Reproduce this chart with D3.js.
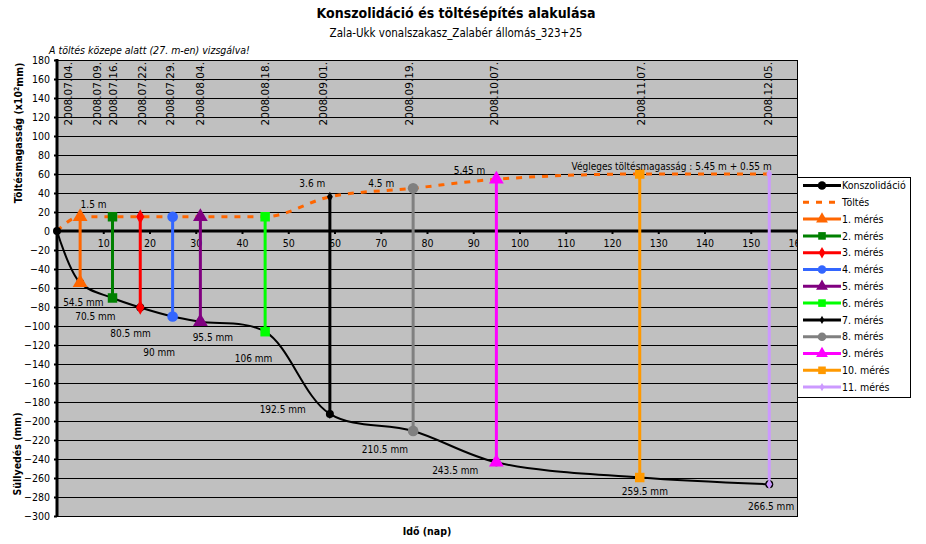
<!DOCTYPE html>
<html>
<head>
<meta charset="utf-8">
<script src="https://cdn.jsdelivr.net/npm/d3@7"></script>
<style>
  body { margin: 0; background: #fff; }
  svg text { font-family: "DejaVu Sans Condensed", "DejaVu Sans", sans-serif; fill: #000; }
</style>
</head>
<body>
<div id="chart"></div>
<script>
// 1: DATA
const measureDays = [0, 5, 12, 18, 25, 31, 45, 59, 77, 95, 126, 154];
const measureDates = ["2008.07.04.", "2008.07.09.", "2008.07.16.", "2008.07.22.", "2008.07.29.", "2008.08.04.",
                      "2008.08.18.", "2008.09.01.", "2008.09.19.", "2008.10.07.", "2008.11.07.", "2008.12.05."];
const dateLabelDays = [2.4, 8.6, 12.2, 18.4, 24.5, 31, 45, 57.6, 76, 94.4, 126.2, 153.7];
const settlement = [0, -54.5, -70.5, -80.5, -90, -95.5, -106, -192.5, -210.5, -243.5, -259.5, -266.5];
const fillHeight = [0, 15, 15, 15, 15, 15, 15, 36, 45, 54.5, 60, 60];

const seriesNames = ["1. mérés", "2. mérés", "3. mérés", "4. mérés", "5. mérés", "6. mérés",
                     "7. mérés", "8. mérés", "9. mérés", "10. mérés", "11. mérés"];
const seriesColors = ["#FF6600", "#008000", "#FF0000", "#3366FF", "#800080", "#00FF00",
                      "#000000", "#808080", "#FF00FF", "#FF9900", "#CC99FF"];
const seriesMarkers = ["triangle", "square", "diamond", "circle", "triangle", "square",
                       "smalldiamond", "circle", "triangle", "square", "smalldiamond"];

const settleNotes = [
  { text: "54.5 mm", day: 5.7, val: -75.5 },
  { text: "70.5 mm", day: 8.3, val: -90.5 },
  { text: "80.5 mm", day: 15.9, val: -108.4 },
  { text: "90 mm", day: 22.1, val: -128 },
  { text: "95.5 mm", day: 33.7, val: -111.6 },
  { text: "106 mm", day: 42.5, val: -134.7 },
  { text: "192.5 mm", day: 48.8, val: -188.4 },
  { text: "210.5 mm", day: 70.9, val: -229.5 },
  { text: "243.5 mm", day: 86.1, val: -251.6 },
  { text: "259.5 mm", day: 127.1, val: -274.4 },
  { text: "266.5 mm", day: 154.4, val: -290.2 }
];
const fillNotes = [
  { text: "1.5 m", day: 7.9, val: 28.4 },
  { text: "3.6 m", day: 55.2, val: 49.5 },
  { text: "4.5 m", day: 70.1, val: 50.2 },
  { text: "5.45 m", day: 89.2, val: 64.2 },
  { text: "Végleges töltésmagasság : 5.45 m + 0.55 m", day: 132.9, val: 67.7 }
];

const xTicks = d3.range(10, 161, 10);
const yTicks = d3.range(-300, 181, 20);

// 2: SIZES
const W = 926, H = 544;
const plot = { left: 57, top: 60, right: 797, bottom: 516 };

const svg = d3.select("#chart").append("svg")
    .attr("width", W)
    .attr("height", H);

const x = d3.scaleLinear().domain([0, 160]).range([plot.left, plot.right]);
const y = d3.scaleLinear().domain([-300, 180]).range([plot.bottom, plot.top]);

// 3: BACKGROUND + GRID
svg.append("rect")
    .attr("x", plot.left).attr("y", plot.top)
    .attr("width", plot.right - plot.left).attr("height", plot.bottom - plot.top)
    .attr("fill", "#C0C0C0");

svg.append("g").selectAll("line")
    .data(yTicks)
    .join("line")
    .attr("x1", plot.left).attr("x2", plot.right)
    .attr("y1", d => y(d) + 0.5).attr("y2", d => y(d) + 0.5)
    .attr("stroke", "#000").attr("stroke-width", 1);

svg.append("rect")
    .attr("x", plot.left + 0.5).attr("y", plot.top + 0.5)
    .attr("width", plot.right - plot.left).attr("height", plot.bottom - plot.top)
    .attr("fill", "none").attr("stroke", "#000").attr("stroke-width", 1);

// 4: AXES
const yAxis = svg.append("g")
    .attr("transform", `translate(${plot.left},0)`)
    .call(d3.axisLeft(y).tickValues(yTicks).tickSize(3).tickPadding(4));
yAxis.select(".domain").remove();
yAxis.selectAll("line").attr("stroke-width", 2);
yAxis.selectAll("text").style("font-size", "10.5px");

const xAxis = svg.append("g")
    .attr("transform", `translate(0,${y(0)})`)
    .call(d3.axisBottom(x).tickValues(xTicks).tickSize(3).tickPadding(6));
xAxis.select(".domain").remove();
xAxis.selectAll("line").attr("stroke-width", 2);
xAxis.selectAll("text").style("font-size", "10.5px");

svg.append("line")
    .attr("x1", plot.left).attr("x2", plot.right)
    .attr("y1", y(0)).attr("y2", y(0))
    .attr("stroke", "#000").attr("stroke-width", 3);
svg.append("line")
    .attr("x1", plot.left).attr("x2", plot.left)
    .attr("y1", plot.top - 1).attr("y2", plot.bottom + 1)
    .attr("stroke", "#000").attr("stroke-width", 3);

// 5: LINES
const pts = (vals) => measureDays.map((d, i) => [d, vals[i]]);
const smooth = d3.line()
    .x(d => x(d[0]))
    .y(d => y(d[1]))
    .curve(d3.curveCatmullRom.alpha(0.5));
const mono = d3.line()
    .x(d => x(d[0]))
    .y(d => y(d[1]))
    .curve(d3.curveMonotoneX);

svg.append("path")
    .attr("d", mono(pts(fillHeight)))
    .attr("fill", "none")
    .attr("stroke", "#FF6600")
    .attr("stroke-width", 3)
    .attr("stroke-dasharray", "6,7");

svg.append("path")
    .attr("d", smooth(pts(settlement)))
    .attr("fill", "none")
    .attr("stroke", "#000")
    .attr("stroke-width", 2);

// measurement verticals
const meas = seriesNames.map((name, i) => ({
  name, color: seriesColors[i], marker: seriesMarkers[i],
  day: measureDays[i + 1], top: fillHeight[i + 1], bottom: settlement[i + 1]
}));

svg.append("g").selectAll("line")
    .data(meas)
    .join("line")
    .attr("x1", d => x(d.day)).attr("x2", d => x(d.day))
    .attr("y1", d => y(d.top)).attr("y2", d => y(d.bottom))
    .attr("stroke", d => d.color)
    .attr("stroke-width", 3);

function symbolPath(kind) {
  const map = {
    triangle: [d3.symbolTriangle, 95],
    square: [d3.symbolSquare, 90],
    diamond: [d3.symbolDiamond, 60],
    circle: [d3.symbolCircle, 90],
    smalldiamond: [d3.symbolDiamond, 30]
  };
  const m = map[kind];
  return d3.symbol().type(m[0]).size(m[1])();
}

// konszolidáció markers
svg.append("g").selectAll("circle")
    .data(pts(settlement))
    .join("circle")
    .attr("cx", d => x(d[0])).attr("cy", d => y(d[1]))
    .attr("r", 4)
    .attr("fill", "#000");

const markerG = svg.append("g");
meas.forEach(d => {
  [d.top, d.bottom].forEach(v => {
    markerG.append("path")
        .attr("d", symbolPath(d.marker))
        .attr("transform", `translate(${x(d.day)},${y(v)})`)
        .attr("fill", d.color);
  });
});

// 6: ANNOTATIONS
svg.append("g").selectAll("text")
    .data(settleNotes.concat(fillNotes))
    .join("text")
    .attr("x", d => x(d.day))
    .attr("y", d => y(d.val))
    .attr("text-anchor", "middle")
    .attr("dy", "0.35em")
    .style("font-size", "10px")
    .text(d => d.text);

svg.append("g").selectAll("text")
    .data(measureDates)
    .join("text")
    .attr("transform", (d, i) => `translate(${x(dateLabelDays[i]) + 4},${plot.top + 2}) rotate(-90)`)
    .attr("text-anchor", "end")
    .style("font-family", "'DejaVu Sans', sans-serif")
    .style("font-size", "10.5px")
    .text(d => d);

// 7: TITLES
svg.append("text")
    .attr("x", 456).attr("y", 18)
    .attr("text-anchor", "middle")
    .style("font-size", "14px").style("font-weight", "bold")
    .text("Konszolidáció és töltésépítés alakulása");

svg.append("text")
    .attr("x", 456).attr("y", 37)
    .attr("text-anchor", "middle")
    .style("font-size", "11.5px")
    .text("Zala-Ukk vonalszakasz_Zalabér állomás_323+25");

svg.append("text")
    .attr("x", 49).attr("y", 54)
    .style("font-size", "10.5px").style("font-style", "italic")
    .text("A töltés közepe alatt (27. m-en) vizsgálva!");

const yt = svg.append("text")
    .attr("transform", "translate(22,133) rotate(-90)")
    .attr("text-anchor", "middle")
    .style("font-size", "10.5px").style("font-weight", "bold");
yt.append("tspan").text("Töltésmagasság (x10");
yt.append("tspan").attr("dy", "-0.4em").style("font-size", "7px").text("2");
yt.append("tspan").attr("dy", "0.4em").text("mm)");

svg.append("text")
    .attr("transform", "translate(21,454) rotate(-90)")
    .attr("text-anchor", "middle")
    .style("font-size", "10.5px").style("font-weight", "bold")
    .text("Süllyedés (mm)");

svg.append("text")
    .attr("x", 427).attr("y", 535)
    .attr("text-anchor", "middle")
    .style("font-size", "10.5px").style("font-weight", "bold")
    .text("Idő (nap)");

// 8: LEGEND
const legend = svg.append("g");
legend.append("rect")
    .attr("x", 797.5).attr("y", 177.5)
    .attr("width", 113).attr("height", 220)
    .attr("fill", "#fff").attr("stroke", "#000");

const legendItems = [
  { name: "Konszolidáció", color: "#000", marker: "circle", dash: null },
  { name: "Töltés", color: "#FF6600", marker: null, dash: "6,7" }
].concat(meas.map(d => ({ name: d.name, color: d.color, marker: d.marker, dash: null })));

legendItems.forEach((d, i) => {
  const ly = 185.5 + i * 16.8;
  legend.append("line")
      .attr("x1", 803).attr("x2", 841)
      .attr("y1", ly).attr("y2", ly)
      .attr("stroke", d.color).attr("stroke-width", 3)
      .attr("stroke-dasharray", d.dash);
  if (d.marker) {
    legend.append("path")
        .attr("d", symbolPath(d.marker))
        .attr("transform", `translate(822,${ly}) scale(0.8)`)
        .attr("fill", d.color);
  }
  legend.append("text")
      .attr("x", 842).attr("y", ly)
      .attr("dy", "0.35em")
      .style("font-size", "10.5px")
      .text(d.name);
});
</script>
</body>
</html>
